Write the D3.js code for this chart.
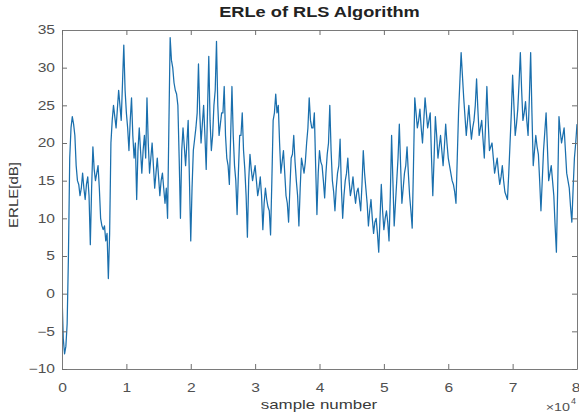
<!DOCTYPE html>
<html>
<head>
<meta charset="utf-8">
<script src="https://cdn.jsdelivr.net/npm/d3@7"></script>
<style>
  body { margin: 0; background: #fff; }
  svg { display: block; font-family: "Liberation Sans", Arial, sans-serif; }
  .tick text { fill: #505050; font-size: 12px; }
  .tick line { stroke: #6e6e6e; }
  .domain { stroke: #7a7a7a; }
</style>
</head>
<body>
<svg id="chart" width="579" height="416"></svg>
<script>
// sample step between readings (samples)
var SAMPLE_STEP = 400;

// ERLE readings in dB at 0, 400, 800 ... samples
var erleValues = [
  0, -8, -4, 18, 23.5, 21, 15, 13, 16, 12.5,
  15.5, 6.5, 19.5, 15, 17, 10, 8.5, 7, 2, 20,
  25, 22, 27, 23, 33, 24, 19, 26, 18, 12.5,
  22, 16, 21, 26, 16, 20, 14, 18, 13, 16,
  12, 10, 34, 30, 27, 25, 10, 22, 17, 23,
  7, 19, 22, 30.5, 20, 25, 16.5, 31.5, 19, 25,
  33.5, 21, 24, 27.5, 18, 14.5, 27.5, 17, 10.5, 21,
  24, 16.5, 7.5, 18.5, 15, 17, 13, 15.5, 8.5, 14,
  11.5, 7.8, 23, 26.5, 25, 16, 19, 13, 9.5, 18,
  21, 15, 9, 18, 16, 20, 26, 22, 24, 10.5,
  19, 17, 12.7, 18.5, 25, 15, 11, 16, 20.5, 10,
  15, 18, 13, 15.5, 12, 14, 11, 19, 14, 9,
  12.5, 8, 10, 5.5, 14.5, 8.5, 11, 7, 21, 9,
  15, 22.5, 12, 16, 19.5, 13, 8.7, 26, 22, 24.5,
  20, 26, 22, 24, 13, 23.5, 18, 21, 17, 22.5,
  18, 16, 14.5, 12, 24, 32, 26, 21, 25, 20.5,
  23, 28.5, 21, 23, 18, 27.5, 19, 20, 16, 18,
  14.5, 17, 13.5, 12.5, 20, 29, 21, 24.5, 32, 23,
  25.5, 21, 32, 17, 21, 18.5, 11, 19, 24, 15,
  17, 13, 5.5, 23.5, 20, 22, 16, 14, 9.5, 18,
  22.5
];

// ERLE readings in dB at 200, 600, 1000 ... samples (between the ones above)
var erleMidValues = [
  -6, -7, 5, 22, 22.5, 17, 14.5, 14, 14, 14.5,
  13, 14, 16.5, 16, 14, 9, 9, 8, 8, 23,
  23.5, 24.5, 25, 28, 27, 22, 23, 21, 20, 19,
  19, 19, 18, 20, 18, 17, 16, 15.5, 15, 14,
  14, 22, 31, 28, 26.5, 18, 19, 19.5, 20, 15,
  14, 20.5, 24, 24, 22.5, 21, 24, 23, 21, 27,
  25, 22.5, 24, 21, 17, 21, 21, 15, 16, 21,
  19, 13, 15, 16.5, 16, 15, 14, 13, 12, 12.5,
  11, 15, 24, 24, 20, 17.5, 16, 12, 14, 18.5,
  17.5, 13, 14, 17, 17.5, 22, 23, 22, 17, 16,
  17.5, 15, 16, 20, 19, 13.5, 14, 17, 14, 13,
  16, 15, 14, 13.5, 13.5, 12.5, 14.5, 16, 12, 11,
  10, 9.5, 8, 10, 11, 10, 9.5, 13, 15, 12,
  18, 17, 14, 17, 16, 11, 17, 24, 23, 22,
  23, 24, 23, 18, 18, 21, 19.5, 19, 19.5, 20,
  17, 15, 13.5, 18, 28, 29, 23.5, 23, 22.5, 22,
  25, 24.5, 22, 20.5, 22.5, 23, 19.5, 18, 17, 16,
  15.5, 15, 13, 16, 24, 25, 22.5, 28, 27, 24,
  23, 26, 24, 19, 19.5, 15, 15, 21.5, 19.5, 16,
  15, 9, 14, 21.5, 21, 19, 15, 11.5, 14, 20
];

var xTicks = [0, 10000, 20000, 30000, 40000, 50000, 60000, 70000, 80000];
var yTicks = [-10, -5, 0, 5, 10, 15, 20, 25, 30, 35];

var titleText = 'ERLe of RLS Algorithm';
var xLabelText = 'sample number';
var yLabelText = 'ERLE[dB]';

var width = 579, height = 416;
var margin = { top: 30, right: 2, bottom: 47, left: 62 };
var innerW = width - margin.left - margin.right;
var innerH = height - margin.top - margin.bottom;

// the reference picture is stretched sideways, widen glyphs to match
var TEXT_STRETCH = 1.3;
function widen(sel, k) {
  sel.each(function () {
    var w = this.getComputedTextLength();
    d3.select(this)
      .attr('textLength', w * k)
      .attr('lengthAdjust', 'spacingAndGlyphs');
  });
}

var svg = d3.select('#chart');
var g = svg.append('g')
  .attr('transform', `translate(${margin.left},${margin.top})`);

var x = d3.scaleLinear().domain([0, 80000]).range([0, innerW]);
var y = d3.scaleLinear().domain([-10, 35]).range([innerH, 0]);

// merge both reading sets in sample order
var points = [];
erleValues.forEach((v, i) => {
  points.push([i * SAMPLE_STEP, v]);
  if (i < erleMidValues.length) points.push([i * SAMPLE_STEP + SAMPLE_STEP / 2, erleMidValues[i]]);
});

// clip the line to the plot box
g.append('clipPath').attr('id', 'clip')
  .append('rect').attr('width', innerW).attr('height', innerH);

var line = d3.line()
  .x(d => x(d[0]))
  .y(d => y(d[1]));

g.append('path')
  .datum(points)
  .attr('clip-path', 'url(#clip)')
  .attr('fill', 'none')
  .attr('stroke', '#1a6fad')
  .attr('stroke-width', 1.25)
  .attr('stroke-linejoin', 'round')
  .attr('d', line);

// axes, matlab style: ticks inside, box on
var tickLen = 5;
var xAxisG = g.append('g')
  .attr('transform', `translate(0,${innerH})`)
  .call(d3.axisBottom(x).tickValues(xTicks).tickSizeInner(-tickLen).tickSizeOuter(0)
    .tickPadding(14).tickFormat(d => d / 10000));
// last label sits on the window edge, keep it inside
xAxisG.selectAll('.tick text').filter(d => d === 80000)
  .attr('text-anchor', 'end').attr('dx', 3);
widen(xAxisG.selectAll('.tick text'), TEXT_STRETCH);

var yAxisG = g.append('g')
  .call(d3.axisLeft(y).tickValues(yTicks).tickSizeInner(-tickLen).tickSizeOuter(0)
    .tickPadding(7));
widen(yAxisG.selectAll('.tick text'), TEXT_STRETCH);

g.append('g')
  .call(d3.axisTop(x).tickValues(xTicks).tickSizeInner(-tickLen).tickSizeOuter(0).tickFormat(''));

g.append('g')
  .attr('transform', `translate(${innerW},0)`)
  .call(d3.axisRight(y).tickValues(yTicks).tickSizeInner(-tickLen).tickSizeOuter(0).tickFormat(''));

// title and labels
svg.append('text')
  .attr('x', margin.left + innerW / 2)
  .attr('y', 17)
  .attr('text-anchor', 'middle')
  .attr('font-weight', 'bold')
  .attr('font-size', 14)
  .attr('fill', '#222')
  .text(titleText)
  .call(widen, TEXT_STRETCH);

svg.append('text')
  .attr('x', 319)
  .attr('y', 409)
  .attr('text-anchor', 'middle')
  .attr('font-size', 13)
  .attr('fill', '#3a3a3a')
  .text(xLabelText)
  .call(widen, TEXT_STRETCH);

svg.append('text')
  .attr('transform', `translate(18,195) rotate(-90)`)
  .attr('text-anchor', 'middle')
  .attr('font-size', 12)
  .attr('fill', '#3a3a3a')
  .text(yLabelText)
  .call(widen, 1.25);

// exponent note under the right end of the x axis
svg.append('text')
  .attr('x', 570)
  .attr('y', 411)
  .attr('text-anchor', 'end')
  .attr('font-size', 11)
  .attr('fill', '#505050')
  .text('\u00d710')
  .call(widen, TEXT_STRETCH);
svg.append('text')
  .attr('x', 571)
  .attr('y', 404)
  .attr('font-size', 9)
  .attr('fill', '#505050')
  .text('4');
</script>
</body>
</html>
